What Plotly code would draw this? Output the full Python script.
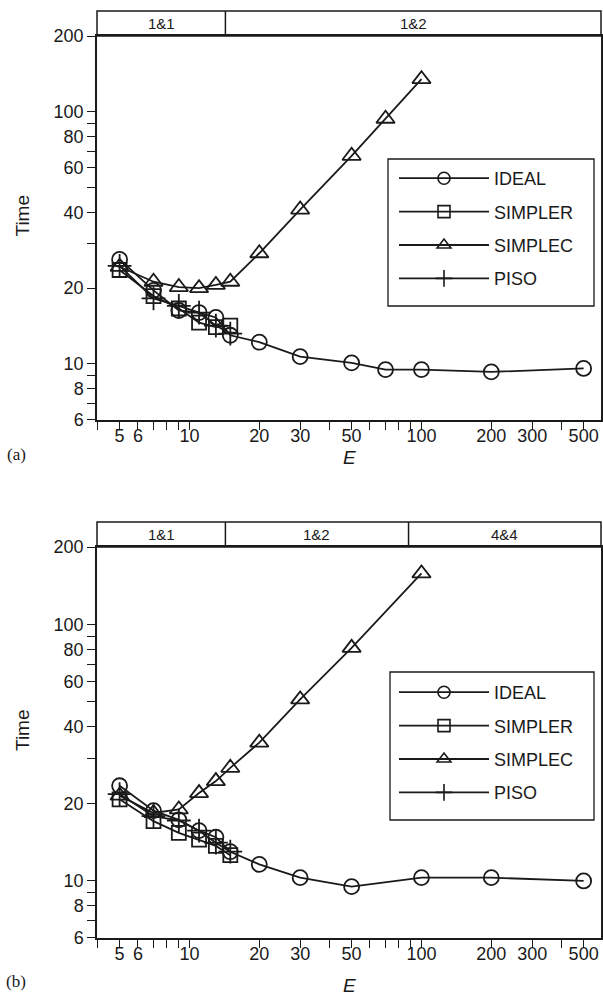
import math
import plotly.graph_objects as go

# ---------------- data ----------------
E_small = [5, 7, 9, 11, 13, 15]

# panel (a)
E_ideal_a = [5, 7, 9, 11, 13, 15, 20, 30, 50, 70, 100, 200, 500]
T_ideal_a = [26.0, 19.6, 16.3, 16.0, 15.3, 13.0, 12.2, 10.7, 10.1, 9.5, 9.5, 9.3, 9.6]
T_simpler_a = [23.6, 18.6, 16.6, 14.6, 14.0, 14.2]
E_simplec_a = [5, 7, 9, 11, 13, 15, 20, 30, 50, 70, 100]
T_simplec_a = [24.3, 21.2, 20.2, 20.0, 20.6, 21.2, 27.5, 41, 67, 94, 135]
T_piso_a = [24.5, 18.2, 17.0, 16.0, 14.2, 13.2]

# panel (b)
E_ideal_b = [5, 7, 9, 11, 13, 15, 20, 30, 50, 100, 200, 500]
T_ideal_b = [23.5, 18.8, 17.3, 15.7, 14.8, 13.0, 11.6, 10.3, 9.5, 10.3, 10.3, 10.0]
T_simpler_b = [20.8, 17.1, 15.4, 14.5, 13.7, 12.6]
E_simplec_b = [5, 7, 9, 11, 13, 15, 20, 30, 50, 100]
T_simplec_b = [21.5, 18.4, 19.0, 22.0, 24.5, 27.6, 34.6, 51, 81, 158]
T_piso_b = [21.8, 17.9, 17.2, 15.7, 14.1, 13.0]

# header bands: labels and boundaries (E values)
hdr_labels_a = ["1&1", "1&2"]
hdr_bounds_a = [14.3]
hdr_labels_b = ["1&1", "1&2", "4&4"]
hdr_bounds_b = [14.3, 88]

series_names = ["IDEAL", "SIMPLER", "SIMPLEC", "PISO"]
x_tickvals = [4, 5, 6, 7, 8, 9, 10, 20, 30, 40, 50, 60, 70, 80, 90, 100, 200, 300, 400, 500]
x_labeled = [5, 6, 10, 20, 30, 50, 100, 200, 300, 500]
y_tickvals = [6, 7, 8, 9, 10, 20, 30, 40, 50, 60, 70, 80, 90, 100, 200]
y_labeled = [6, 8, 10, 20, 40, 60, 80, 100, 200]

# ---------------- layout geometry ----------------
W, H = 603, 1005
XL, XR = 97, 601
A_TOP, A_BOT, A_HDR = 36, 420, 11
B_TOP, B_BOT, B_HDR = 547, 938, 522
XMIN, XMAX = 4, 594
YMIN, YMAX = 6, 200
INK = "#1a1a1a"
FONT = "Liberation Sans, Arial, sans-serif"


def pfx(p):
    return p / W


def pfy(p):
    return 1 - p / H


def xfrac(e):
    return (math.log10(e) - math.log10(XMIN)) / (math.log10(XMAX) - math.log10(XMIN))


styles = {
    "IDEAL": dict(symbol="circle-open", size=15),
    "SIMPLER": dict(symbol="square-open", size=14),
    "SIMPLEC": dict(symbol="triangle-up-open", size=16),
    "PISO": dict(symbol="cross-thin-open", size=17),
}

fig = go.Figure()

panels = [
    ("x", "y", "legend", [(E_ideal_a, T_ideal_a), (E_small, T_simpler_a), (E_simplec_a, T_simplec_a), (E_small, T_piso_a)]),
    ("x2", "y2", "legend2", [(E_ideal_b, T_ideal_b), (E_small, T_simpler_b), (E_simplec_b, T_simplec_b), (E_small, T_piso_b)]),
]

for xa, ya, leg, data in panels:
    for name, (xs, ys) in zip(series_names, data):
        st = styles[name]
        fig.add_trace(go.Scatter(
            x=xs, y=ys, mode="lines+markers", xaxis=xa, yaxis=ya,
            line=dict(color=INK, width=1.8),
            marker=dict(symbol=st["symbol"], size=st["size"], color=INK,
                        line=dict(color=INK, width=1.8)),
            showlegend=False, name=name,
        ))
    # legend-only entries with smaller markers
    for name in series_names:
        st = styles[name]
        fig.add_trace(go.Scatter(
            x=[None], y=[None], mode="lines+markers", xaxis=xa, yaxis=ya,
            line=dict(color=INK, width=1.8),
            marker=dict(symbol=st["symbol"], size=12, color=INK,
                        line=dict(color=INK, width=1.6)),
            name=name, legend=leg, legendgroup=leg + name, showlegend=True,
        ))

xaxis_common = dict(
    type="log", range=[math.log10(XMIN) - 0.0005, math.log10(XMAX)],
    tickvals=x_tickvals,
    ticktext=[str(v) if v in x_labeled else "" for v in x_tickvals],
    ticks="outside", ticklen=8, tickwidth=1.4, tickcolor=INK,
    ticklabelstandoff=-9,
    showline=True, linecolor=INK, linewidth=1.5, mirror=True,
    showgrid=False, zeroline=False,
    tickfont=dict(family=FONT, size=18, color=INK),
    domain=[pfx(XL), pfx(XR)], automargin=False,
)
yaxis_common = dict(
    type="log", range=[math.log10(YMIN) - 0.0005, math.log10(YMAX) + 0.0005],
    tickvals=y_tickvals,
    ticktext=[str(v) if v in y_labeled else "" for v in y_tickvals],
    ticks="outside", ticklen=8, tickwidth=1.4, tickcolor=INK,
    showline=True, linecolor=INK, linewidth=1.5, mirror=True,
    showgrid=False, zeroline=False,
    tickfont=dict(family=FONT, size=18, color=INK),
    automargin=False,
)

shapes = []
annotations = []


def add_header(xref, yref, top_px, hdr_px, bot_px, labels, bounds):
    span = bot_px - top_px
    ytop = 1 + (top_px - hdr_px) / span
    shapes.append(dict(type="rect", xref=xref + " domain", yref=yref + " domain",
                       x0=0, x1=1, y0=1, y1=ytop, line=dict(color=INK, width=1.5)))
    edges = [0] + [xfrac(b) for b in bounds] + [1]
    for b in bounds:
        shapes.append(dict(type="line", xref=xref + " domain", yref=yref + " domain",
                           x0=xfrac(b), x1=xfrac(b), y0=1, y1=ytop,
                           line=dict(color=INK, width=1.5)))
    for i, lab in enumerate(labels):
        annotations.append(dict(text=lab, xref=xref + " domain", yref=yref + " domain",
                                x=(edges[i] + edges[i + 1]) / 2, y=(1 + ytop) / 2,
                                showarrow=False, xanchor="center", yanchor="middle",
                                font=dict(family=FONT, size=15, color=INK)))


add_header("x", "y", A_TOP, A_HDR, A_BOT, hdr_labels_a, hdr_bounds_a)
add_header("x2", "y2", B_TOP, B_HDR, B_BOT, hdr_labels_b, hdr_bounds_b)

for hdr, bot, etitle_y, tag in [(A_HDR, A_BOT, 458, "(a)"), (B_HDR, B_BOT, 985, "(b)")]:
    annotations.append(dict(text="<i>E</i>", xref="paper", yref="paper",
                            x=pfx((XL + XR) / 2), y=pfy(etitle_y), showarrow=False,
                            xanchor="center", yanchor="middle",
                            font=dict(family=FONT, size=19, color=INK)))
    annotations.append(dict(text="Time", xref="paper", yref="paper",
                            x=pfx(22), y=pfy((hdr + bot) / 2), showarrow=False,
                            textangle=-90, xanchor="center", yanchor="middle",
                            font=dict(family=FONT, size=19, color=INK)))
    annotations.append(dict(text=tag, xref="paper", yref="paper",
                            x=pfx(16), y=pfy(etitle_y - 4), showarrow=False,
                            xanchor="center", yanchor="middle",
                            font=dict(family="Liberation Serif, Times New Roman, serif", size=17, color=INK)))

# legend frames drawn as shapes (pixel boxes)
for (x0, y0, x1, y1) in [(388, 159, 594, 306), (390, 672, 594, 820)]:
    shapes.append(dict(type="rect", xref="paper", yref="paper",
                       x0=pfx(x0), x1=pfx(x1), y0=pfy(y1), y1=pfy(y0),
                       line=dict(color=INK, width=1.3), fillcolor="white", layer="below"))

legend_common = dict(
    xanchor="left", yanchor="top",
    bgcolor="rgba(0,0,0,0)", borderwidth=0,
    font=dict(family=FONT, size=18, color=INK),
    itemwidth=90, tracegroupgap=7, traceorder="grouped",
)

fig.update_layout(
    width=W, height=H,
    margin=dict(l=0, r=0, t=0, b=0),
    paper_bgcolor="white", plot_bgcolor="rgba(0,0,0,0)",
    xaxis=dict(xaxis_common, anchor="y"),
    yaxis=dict(yaxis_common, domain=[pfy(A_BOT), pfy(A_TOP)], anchor="x"),
    xaxis2=dict(xaxis_common, anchor="y2"),
    yaxis2=dict(yaxis_common, domain=[pfy(B_BOT), pfy(B_TOP)], anchor="x2"),
    legend=dict(legend_common, x=pfx(394), y=pfy(160)),
    legend2=dict(legend_common, x=pfx(394), y=pfy(674)),
    shapes=shapes, annotations=annotations,
    showlegend=True,
)

fig.write_html("out.html")
